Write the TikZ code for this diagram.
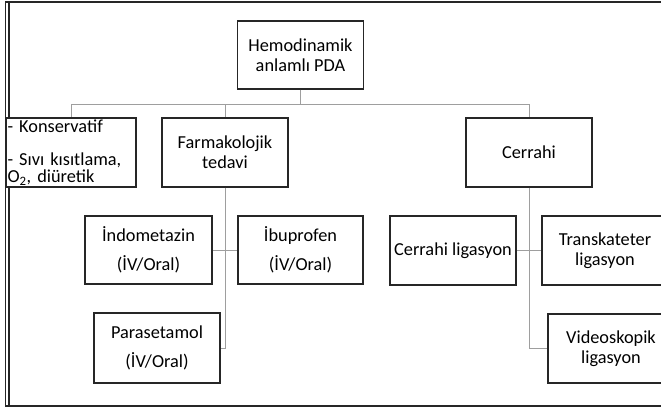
\documentclass[tikz,border=0pt]{standalone}
\usepackage{fontspec}
\setmainfont{Carlito}
\begin{document}
\begin{tikzpicture}[x=1pt,y=-1pt,
  box/.style={draw=black!85, line width=1.5pt, fill=white, inner sep=0pt, align=center,
    font=\fontsize{18.3}{20}\selectfont, minimum height=68pt},
  conn/.style={draw=black!38, line width=0.9pt},
  frame/.style={draw=black!85, line width=1.3pt}]
\useasboundingbox (0,0) rectangle (661,411);
\clip (0,0) rectangle (661,411);
\fill[white] (0,0) rectangle (661,411);
% outer frame
\draw[frame] (661,2) -- (5.5,2) -- (5.5,406) -- (661,406);
\draw[frame] (9,2) -- (9,406);
% boxes
\node[box, minimum width=126pt, minimum height=68pt] (top) at (300.5,55) {Hemodinamik\\anlamlı PDA};
\node[box, minimum width=130pt, minimum height=69pt, text width=127pt, align=left] (kons) at (71,152.5)
  {- Konservatif\\[13pt]- Sıvı kısıtlama,\\[-3pt]O\textsubscript{2}, diüretik};
\node[box, minimum width=126pt, minimum height=69pt] (farm) at (225,152.5) {Farmakolojik\\tedavi};
\node[box, minimum width=126pt, minimum height=69pt] (cerr) at (529,152.5) {Cerrahi};
\node[box, minimum width=127pt] (indo) at (148.5,250) {İndometazin\\[9pt](İV/Oral)};
\node[box, minimum width=125pt] (ibu) at (300.5,250) {İbuprofen\\[9pt](İV/Oral)};
\node[box, minimum width=126pt, minimum height=70pt] (para) at (157,348) {Parasetamol\\[9pt](İV/Oral)};
\node[box, minimum width=126pt, minimum height=69pt] (cligas) at (453,250.5) {Cerrahi ligasyon};
\node[box, minimum width=126pt, minimum height=69pt] (trans) at (605,250.5) {Transkateter\\ligasyon};
\node[box, minimum width=126pt, minimum height=69pt] (video) at (611,348.5) {Videoskopik\\ligasyon};
% connectors
\coordinate (bus) at (0,104);
\draw[conn] (kons.north) |- (bus -| cerr.north) -- (cerr.north);
\draw[conn] (top.south) -- (top.south |- bus);
\draw[conn] (farm.north) -- (farm.north |- bus);
\draw[conn] (farm.south) -- (farm.south |- para.east) -- (para.east);
\draw[conn] (indo.east) -- (ibu.west);
\draw[conn] (cerr.south) -- (cerr.south |- video.west) -- (video.west);
\draw[conn] (cligas.east) -- (trans.west);
\end{tikzpicture}
\end{document}
